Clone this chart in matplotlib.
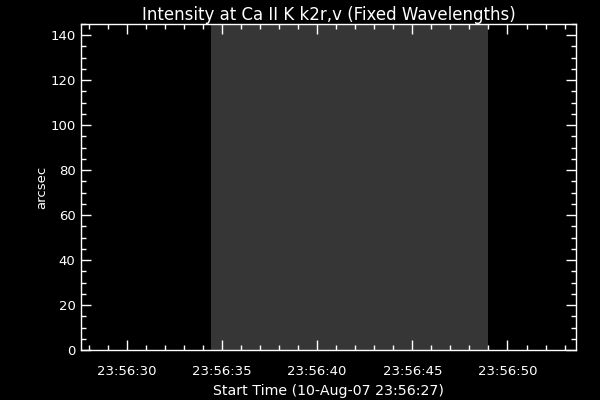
import datetime as dt
import matplotlib
matplotlib.use("Agg")
import matplotlib.pyplot as plt
import matplotlib.dates as mdates

# axis range (time) and the shaded interval
t0 = dt.datetime(2007, 8, 10, 23, 56, 27)
x_range = [t0 + dt.timedelta(seconds=0.6), t0 + dt.timedelta(seconds=26.6)]
shade_range = [t0 + dt.timedelta(seconds=7.45), t0 + dt.timedelta(seconds=22.0)]
y_range = [0, 145]
y_ticks = [0, 20, 40, 60, 80, 100, 120, 140]

title = "Intensity at Ca II K k2r,v (Fixed Wavelengths)"
xlabel = "Start Time (10-Aug-07 23:56:27)"
ylabel = "arcsec"

plt.rcParams['font.family'] = ['DejaVu Sans']
fig = plt.figure(figsize=(6, 4), dpi=100, facecolor='black')
ax = fig.add_axes([0.135, 0.125, 0.825, 0.815], facecolor='black')

ax.axvspan(shade_range[0], shade_range[1], color='#363636', lw=0)

ax.set_xlim(x_range)
ax.set_ylim(y_range)
ax.set_yticks(y_ticks)
ax.yaxis.set_minor_locator(matplotlib.ticker.MultipleLocator(5))
ax.xaxis.set_major_locator(mdates.SecondLocator(bysecond=range(0, 60, 5)))
ax.xaxis.set_minor_locator(mdates.SecondLocator())
ax.xaxis.set_major_formatter(mdates.DateFormatter('%H:%M:%S'))

for sp in ax.spines.values():
    sp.set_color('white')
    sp.set_linewidth(1.0)

ax.tick_params(which='both', direction='in', colors='white', top=True, right=True, width=1.0)
ax.tick_params(which='major', length=7)
ax.tick_params(which='minor', length=3.5)
ax.tick_params(axis='x', which='major', labelsize=9.5, pad=11)
ax.tick_params(axis='y', which='major', labelsize=9.5, pad=4)

ax.set_title(title, color='white', fontsize=12, pad=3)
ax.set_xlabel(xlabel, color='white', fontsize=10.2, labelpad=4)
ax.set_ylabel(ylabel, color='white', fontsize=9.5, labelpad=1)

fig.savefig('out.png', dpi=100, facecolor='black')
